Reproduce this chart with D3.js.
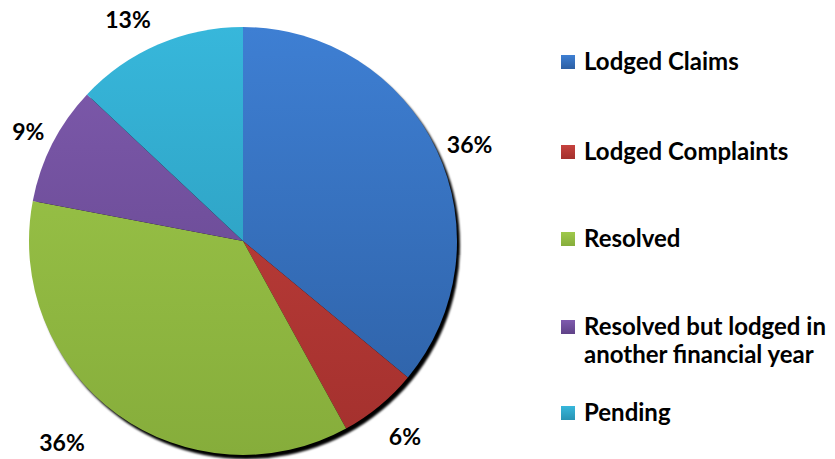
<!DOCTYPE html>
<html>
<head>
<meta charset="utf-8">
<script src="https://cdn.jsdelivr.net/npm/d3@7"></script>
<style>
  body { margin: 0; background: #fff; }
  text { font-family: Lato, "Open Sans", sans-serif; font-weight: bold; fill: #000; }
</style>
</head>
<body>
<div id="chart"></div>
<script>
// Data
const categories = ["Lodged Claims", "Lodged Complaints", "Resolved", "Resolved but lodged in another financial year", "Pending"];
const values = [36, 6, 36, 9, 13];
const legendLines = [["Lodged Claims"], ["Lodged Complaints"], ["Resolved"], ["Resolved but lodged in", "another financial year"], ["Pending"]];
const topColors = ["#3e7fd3", "#c6423e", "#9fc94b", "#7f5bae", "#37b7db"];
const bottomColors = ["#2d5fa3", "#a3302d", "#86ad3b", "#5f4287", "#2893b3"];

const width = 835, height = 459;
const cx = 243, cy = 241, radius = 214;

const svg = d3.select("#chart").append("svg")
    .attr("width", width)
    .attr("height", height);

const defs = svg.append("defs");

// vertical gradients per slice (lighter on top)
categories.forEach((c, i) => {
    const lg = defs.append("linearGradient")
        .attr("id", "grad" + i)
        .attr("gradientUnits", "userSpaceOnUse")
        .attr("x1", 0).attr("y1", -radius)
        .attr("x2", 0).attr("y2", radius);
    lg.append("stop").attr("offset", "0%").attr("stop-color", topColors[i]);
    lg.append("stop").attr("offset", "100%").attr("stop-color", bottomColors[i]);

    const lg2 = defs.append("linearGradient")
        .attr("id", "lgrad" + i)
        .attr("x1", 0).attr("y1", 0).attr("x2", 0).attr("y2", 1);
    lg2.append("stop").attr("offset", "0%").attr("stop-color", topColors[i]);
    lg2.append("stop").attr("offset", "100%").attr("stop-color", bottomColors[i]);
});

defs.append("filter")
    .attr("id", "blur")
    .attr("x", "-10%").attr("y", "-10%").attr("width", "120%").attr("height", "120%")
    .append("feGaussianBlur").attr("stdDeviation", 1.2);

const g = svg.append("g")
    .attr("transform", "translate(" + cx + "," + cy + ")");

// shadow
g.append("circle")
    .attr("cx", 3).attr("cy", 4)
    .attr("r", radius)
    .attr("fill", "#000")
    .attr("filter", "url(#blur)");

const pie = d3.pie().sort(null).value(d => d);
const arcs = pie(values);

const arc = d3.arc().innerRadius(0).outerRadius(radius);

g.selectAll("path.slice")
    .data(arcs)
    .enter().append("path")
    .attr("class", "slice")
    .attr("d", arc)
    .attr("fill", (d, i) => "url(#grad" + i + ")")
    .attr("stroke", "none");

// percentage labels outside the pie (distance and angle nudge, like excel's placement)
const labelDist = [246, 254, 271, 241, 249];
const labelNudge = [2.3, 0, 5.9, 0, -4.1];
g.selectAll("text.pct")
    .data(arcs)
    .enter().append("text")
    .attr("class", "pct")
    .attr("transform", (d, i) => {
        const a = (d.startAngle + d.endAngle) / 2 + labelNudge[i] * Math.PI / 180;
        const r = labelDist[i];
        return "translate(" + (r * Math.sin(a)) + "," + (-r * Math.cos(a)) + ")";
    })
    .attr("text-anchor", "middle")
    .attr("dy", "0.35em")
    .style("font-size", "23px")
    .text(d => d3.format(".0%")(d.data / d3.sum(values)));

// legend
const legendY = [62, 152, 239, 327, 413];
const legend = svg.append("g").attr("class", "legend");

const item = legend.selectAll("g")
    .data(categories)
    .enter().append("g")
    .attr("transform", (d, i) => "translate(561," + legendY[i] + ")");

item.append("rect")
    .attr("x", 0).attr("y", -7)
    .attr("width", 14).attr("height", 14)
    .attr("fill", (d, i) => "url(#lgrad" + i + ")");

item.append("text")
    .attr("x", 23)
    .style("font-size", "24px")
    .each(function (d, i) {
        d3.select(this).selectAll("tspan")
            .data(legendLines[i])
            .enter().append("tspan")
            .attr("x", 23)
            .attr("dy", (t, j) => j === 0 ? "0.35em" : "28px")
            .text(t => t);
    });
</script>
</body>
</html>
